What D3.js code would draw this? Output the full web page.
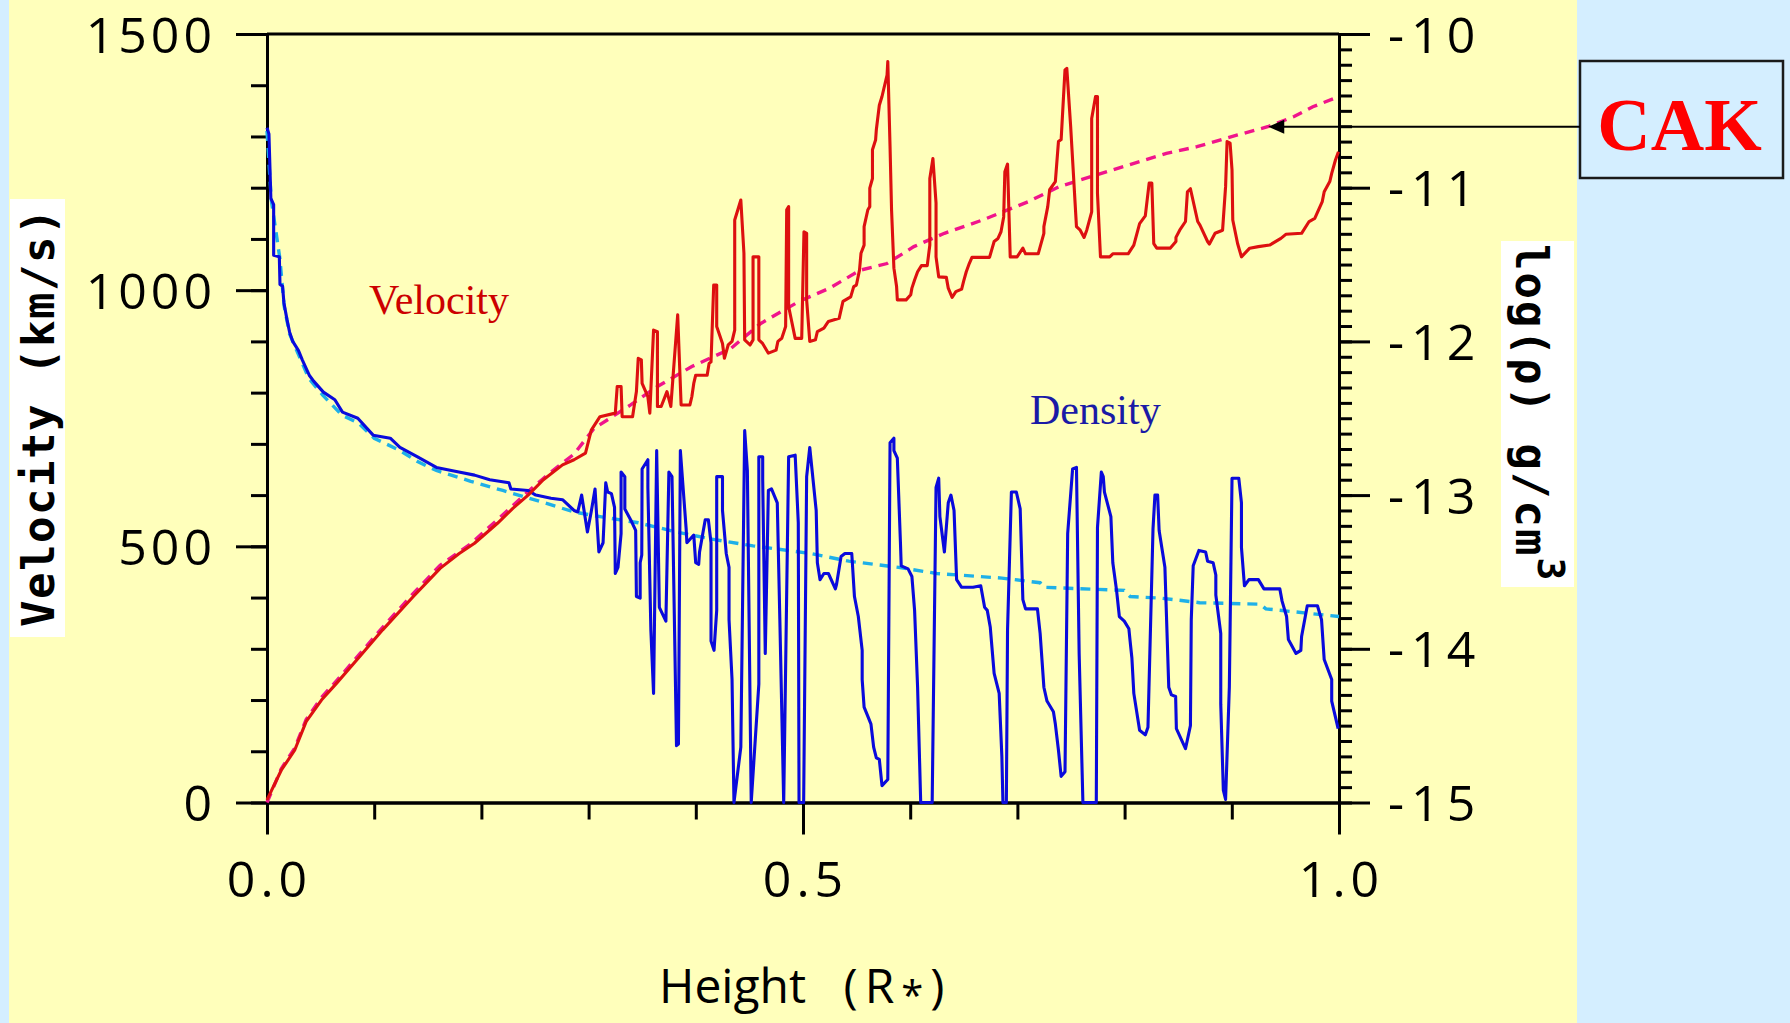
<!DOCTYPE html>
<html>
<head>
<meta charset="utf-8">
<script src="https://cdn.jsdelivr.net/npm/d3@7"></script>
<style>
  body { margin: 0; background: #d4eeff; }
  svg { display: block; }
</style>
</head>
<body>
<div id="chart"></div>
<script>
// ---- data (height in R*, velocity in km/s, density as log rho) ----
const velocity = [
  [0,5],[0.0133,63],[0.0258,102],[0.0365,158],[0.0508,200],[0.065,233],[0.0865,285],[0.1079,337],
  [0.1365,402],[0.1615,457],[0.1793,486],[0.1936,506],[0.215,545],[0.2293,574],[0.2436,600],[0.2578,630],
  [0.2757,659],[0.2864,669],[0.2971,682],[0.3025,727],[0.3106,753],[0.3249,760],
  [0.3267,812],[0.3303,812],[0.3313,753],[0.341,753],[0.3446,802],[0.3463,867],[0.3492,864],[0.3499,818],
  [0.3553,792],[0.3571,760],[0.3606,922],[0.3642,919],[0.3642,773],[0.3677,773],[0.3731,802],[0.3767,773],
  [0.3831,952],[0.3863,776],[0.3945,776],[0.3963,792],[0.3981,818],[0.3999,834],[0.4106,834],[0.4124,857],
  [0.4142,860],[0.4167,1010],[0.4195,1010],[0.4195,929],[0.4249,896],[0.4267,867],[0.4302,893],[0.4338,900],
  [0.4363,922],[0.4363,1137],[0.442,1176],[0.4449,1072],[0.4456,903],[0.4506,893],[0.4534,903],[0.4534,1065],
  [0.4588,1065],[0.4588,903],[0.4623,896],[0.4677,877],[0.4749,883],[0.4766,900],[0.4802,906],[0.4838,929],
  [0.4848,1157],[0.4866,1163],[0.4866,968],[0.4927,906],[0.4988,906],[0.5009,1114],[0.5034,1111],[0.5034,981],
  [0.5063,900],[0.5116,903],[0.5134,919],[0.5195,926],[0.5237,939],[0.5337,945],[0.5373,978],[0.5445,987],
  [0.5473,1007],[0.5498,1010],[0.5527,1039],[0.5541,1072],[0.557,1088],[0.557,1124],[0.5605,1157],[0.5623,1163],
  [0.5623,1199],[0.5648,1218],[0.5648,1274],[0.5677,1293],[0.5684,1313],[0.5712,1361],[0.5737,1378],[0.5784,1420],
  [0.5791,1446],[0.5812,1280],[0.5826,1157],[0.5848,1043],[0.5873,1007],[0.588,981],[0.5962,981],[0.6005,991],
  [0.6016,1004],[0.6041,1020],[0.6069,1036],[0.6105,1048],[0.6159,1048],[0.6183,1088],[0.6183,1218],[0.6212,1257],
  [0.6241,1170],[0.6241,1065],[0.6266,1026],[0.6337,1025],[0.6355,1004],[0.6391,986],[0.6426,997],[0.648,1002],
  [0.6498,1017],[0.6523,1036],[0.6551,1052],[0.6576,1064],[0.674,1064],[0.6765,1082],[0.6783,1095],[0.6819,1101],
  [0.6847,1114],[0.6872,1143],[0.6883,1231],[0.6908,1246],[0.6933,1065],[0.6997,1065],[0.7051,1082],[0.7076,1071],
  [0.7194,1071],[0.7247,1111],[0.7247,1124],[0.7283,1163],[0.7301,1196],[0.7354,1212],[0.7383,1290],[0.7408,1294],
  [0.7444,1430],[0.7461,1433],[0.7497,1319],[0.7551,1124],[0.7586,1117],[0.7622,1103],[0.7647,1117],[0.7693,1153],
  [0.7693,1335],[0.7729,1378],[0.7747,1378],[0.7747,1189],[0.7775,1065],[0.7861,1065],[0.789,1071],[0.8033,1071],
  [0.8086,1088],[0.814,1130],[0.8193,1145],[0.8229,1209],[0.8254,1209],[0.8272,1091],[0.83,1082],[0.8425,1082],
  [0.8479,1095],[0.8479,1103],[0.8514,1117],[0.8568,1134],[0.8586,1192],[0.8614,1198],[0.8682,1134],[0.8703,1127],
  [0.8774,1095],[0.8791,1090],[0.8844,1111],[0.8914,1117],[0.8942,1202],[0.8956,1290],[0.8984,1287],[0.9002,1235],
  [0.9009,1137],[0.9054,1091],[0.909,1065],[0.9167,1082],[0.9248,1085],[0.9353,1088],[0.9458,1101],[0.9504,1109],
  [0.9651,1111],[0.9721,1134],[0.9774,1140],[0.9844,1173],[0.9862,1192],[0.9914,1212],[0.9932,1228],[0.9967,1254],
  [0.9995,1270]
];

const velocityCAK = [
  [0,0],[0.0133,66],[0.0258,106],[0.0365,162],[0.0508,205],[0.065,238],[0.0865,290],[0.1079,342],[0.1365,408],
  [0.1615,463],[0.19,505],[0.215,552],[0.2436,607],[0.265,645],[0.2864,680],[0.305,730],[0.3392,776],[0.3642,812],
  [0.3963,851],[0.432,885],[0.4606,935],[0.4963,978],[0.5248,1004],[0.5534,1039],[0.5784,1052],[0.6034,1085],
  [0.6319,1111],[0.6676,1137],[0.7104,1173],[0.739,1202],[0.789,1235],[0.839,1267],[0.8675,1280],[0.9054,1303],
  [0.9335,1319],[0.9581,1339],[0.9756,1358],[1.0,1378]
];

const density = [
  [0,-10.61],[0.0018,-10.65],[0.0036,-11.07],[0.0062,-11.11],[0.0062,-11.44],[0.0115,-11.45],[0.0121,-11.63],
  [0.0145,-11.64],[0.0158,-11.75],[0.0187,-11.86],[0.0211,-11.94],[0.024,-12.0],[0.0294,-12.06],[0.0329,-12.12],
  [0.0394,-12.22],[0.0437,-12.26],[0.0526,-12.33],[0.0633,-12.38],[0.0704,-12.46],[0.0847,-12.5],[0.099,-12.61],
  [0.115,-12.63],[0.124,-12.69],[0.14,-12.75],[0.158,-12.82],[0.179,-12.85],[0.1936,-12.87],[0.2078,-12.9],
  [0.2257,-12.92],[0.2275,-12.96],[0.2436,-12.97],[0.2507,-13.0],[0.2649,-13.02],[0.2757,-13.03],[0.2864,-13.1],
  [0.2899,-13.11],[0.2935,-13.0],[0.2989,-13.24],[0.3024,-13.11],[0.306,-12.96],[0.3096,-13.37],[0.3135,-13.31],
  [0.316,-12.92],[0.3178,-12.98],[0.3213,-12.99],[0.3242,-13.08],[0.3249,-13.51],[0.3274,-13.47],[0.3303,-13.25],
  [0.3303,-12.85],[0.3338,-12.88],[0.3338,-13.09],[0.3392,-13.16],[0.3439,-13.23],[0.3446,-13.66],[0.3481,-13.67],
  [0.3481,-13.44],[0.3496,-13.39],[0.3499,-12.83],[0.3553,-12.77],[0.3553,-12.95],[0.3581,-13.88],[0.3606,-14.29],
  [0.3635,-12.71],[0.366,-13.73],[0.3721,-13.82],[0.3749,-12.85],[0.3778,-12.88],[0.382,-14.63],[0.3838,-14.62],
  [0.3856,-12.71],[0.391,-13.22],[0.3917,-13.31],[0.3981,-13.26],[0.3999,-13.44],[0.4027,-13.45],[0.4035,-13.37],
  [0.4088,-13.16],[0.4117,-13.16],[0.4142,-13.31],[0.4142,-13.95],[0.417,-14.01],[0.4195,-13.75],[0.4195,-12.88],
  [0.4249,-12.88],[0.4249,-13.1],[0.4284,-13.38],[0.431,-13.47],[0.431,-13.81],[0.4338,-14.2],[0.4356,-15.0],
  [0.442,-14.64],[0.4456,-12.58],[0.4481,-12.84],[0.4517,-15.0],[0.4588,-14.23],[0.4588,-12.75],[0.4624,-12.75],
  [0.4624,-12.9],[0.4648,-14.03],[0.4677,-12.97],[0.4706,-12.96],[0.476,-13.05],[0.4784,-13.81],[0.482,-15.0],
  [0.4866,-12.75],[0.4927,-12.74],[0.4956,-13.18],[0.4963,-15.0],[0.5006,-15.0],[0.5034,-12.88],[0.5063,-12.69],
  [0.5123,-13.1],[0.5134,-13.44],[0.5159,-13.55],[0.5195,-13.51],[0.5237,-13.51],[0.5302,-13.61],[0.5313,-13.58],
  [0.5355,-13.4],[0.5391,-13.38],[0.5455,-13.38],[0.548,-13.66],[0.5516,-13.79],[0.5552,-14.01],[0.5552,-14.2],
  [0.557,-14.38],[0.5605,-14.44],[0.5634,-14.49],[0.5659,-14.64],[0.5684,-14.71],[0.5712,-14.72],[0.5737,-14.89],
  [0.5791,-14.85],[0.5812,-12.66],[0.5848,-12.63],[0.5848,-12.71],[0.588,-12.76],[0.5909,-13.31],[0.5916,-13.46],
  [0.598,-13.48],[0.6016,-13.53],[0.6041,-13.75],[0.6069,-14.25],[0.6098,-15.0],[0.6205,-15.0],[0.6241,-12.95],
  [0.6266,-12.89],[0.6277,-13.14],[0.6319,-13.37],[0.6355,-13.05],[0.638,-13.0],[0.6409,-13.1],[0.6433,-13.55],
  [0.648,-13.6],[0.6587,-13.6],[0.6658,-13.59],[0.6694,-13.73],[0.6719,-13.75],[0.6747,-13.86],[0.6765,-14.01],
  [0.6783,-14.16],[0.683,-14.29],[0.6855,-14.7],[0.6865,-15.0],[0.6897,-15.0],[0.6908,-13.88],[0.6944,-12.98],
  [0.699,-12.98],[0.7026,-13.09],[0.7051,-13.68],[0.7076,-13.74],[0.7187,-13.74],[0.7212,-13.9],[0.7247,-14.25],
  [0.7276,-14.34],[0.7336,-14.41],[0.7354,-14.49],[0.7383,-14.66],[0.7408,-14.83],[0.7444,-14.8],[0.7469,-13.25],
  [0.7515,-12.83],[0.7551,-12.82],[0.7576,-14.03],[0.7611,-15.0],[0.7736,-15.0],[0.7747,-13.21],[0.7783,-12.85],
  [0.7801,-12.88],[0.7812,-12.98],[0.7872,-13.14],[0.789,-13.44],[0.7925,-13.62],[0.7951,-13.79],[0.7997,-13.82],
  [0.804,-13.87],[0.805,-13.94],[0.8068,-14.06],[0.8086,-14.29],[0.814,-14.53],[0.8193,-14.56],[0.8218,-14.51],
  [0.8265,-13.22],[0.8283,-13.0],[0.8308,-13.0],[0.8322,-13.23],[0.8376,-13.47],[0.8412,-14.25],[0.8437,-14.3],
  [0.8476,-14.31],[0.8483,-14.52],[0.8568,-14.65],[0.8614,-14.5],[0.8622,-13.81],[0.864,-13.46],[0.8693,-13.36],
  [0.8756,-13.37],[0.8774,-13.43],[0.8826,-13.44],[0.8851,-13.52],[0.8851,-13.65],[0.8897,-13.9],[0.8897,-14.36],
  [0.8921,-14.92],[0.8942,-14.98],[0.8977,-14.25],[0.9002,-12.89],[0.9065,-12.89],[0.909,-13.05],[0.909,-13.34],
  [0.9118,-13.59],[0.916,-13.55],[0.9248,-13.55],[0.93,-13.61],[0.9448,-13.61],[0.9469,-13.69],[0.9511,-13.79],
  [0.9528,-13.94],[0.9599,-14.03],[0.9644,-14.01],[0.9651,-13.92],[0.9704,-13.72],[0.9799,-13.72],[0.9837,-13.81],
  [0.9862,-14.07],[0.9932,-14.2],[0.9932,-14.34],[0.9992,-14.52]
];

const densityCAK = [
  [0,-10.63],[0.004,-11.08],[0.012,-11.46],[0.016,-11.77],[0.021,-11.95],[0.029,-12.08],[0.039,-12.24],
  [0.052,-12.35],[0.07,-12.48],[0.085,-12.53],[0.1,-12.63],[0.124,-12.71],[0.14,-12.78],[0.158,-12.84],
  [0.19,-12.91],[0.22,-12.97],[0.2543,-13.04],[0.2864,-13.11],[0.3106,-13.14],[0.3463,-13.18],[0.382,-13.24],
  [0.4177,-13.29],[0.4534,-13.33],[0.507,-13.38],[0.5427,-13.43],[0.5891,-13.47],[0.6248,-13.51],[0.6855,-13.54],
  [0.7212,-13.57],[0.7247,-13.6],[0.7997,-13.62],[0.8051,-13.66],[0.8336,-13.67],[0.87,-13.7],[0.9265,-13.71],
  [0.9318,-13.74],[1.0,-13.79]
];

// ticks
const xMajorTicks = [0, 0.5, 1.0];
const xMinorTicks = [0, 0.1, 0.2, 0.3, 0.4, 0.5, 0.6, 0.7, 0.8, 0.9, 1.0];
const velMajorTicks = [0, 500, 1000, 1500];
const velMinorTicks = [0, 100, 200, 300, 400, 500, 600, 700, 800, 900, 1000, 1100, 1200, 1300, 1400, 1500];
const rhoMajorTicks = [-15, -14, -13, -12, -11, -10];
const rhoMinorTicks = d3.range(-150, -99).map(d => d / 10);

// where the CAK arrow points (height, velocity)
const cakPoint = [0.934, 1319];

const W = 1790, H = 1023;
const margin = {top: 34, right: 451, bottom: 220.5, left: 267};

const svg = d3.select("#chart").append("svg")
    .attr("width", W)
    .attr("height", H);

// backgrounds
svg.append("rect").attr("width", W).attr("height", H).attr("fill", "#d4eeff");
svg.append("rect").attr("x", 9).attr("y", 0).attr("width", 1568).attr("height", H).attr("fill", "#ffffbb");

let x = d3.scaleLinear().domain([0, 1]).range([margin.left, W - margin.right]);
let yVel = d3.scaleLinear().domain([0, 1500]).range([H - margin.bottom, margin.top]);
let yRho = d3.scaleLinear().domain([-15, -10]).range([H - margin.bottom, margin.top]);

const axisFont = "'Open Sans', 'Liberation Sans', sans-serif";

function styleAxis(g) {
    g.selectAll("path.domain").attr("stroke", "black").attr("stroke-width", 3);
    g.selectAll(".tick line").attr("stroke", "black").attr("stroke-width", 3);
    g.selectAll("text")
        .attr("font-family", axisFont)
        .attr("font-size", 50)
        .attr("fill", "black");
}

// top frame line
svg.append("line")
    .attr("x1", x(0)).attr("x2", x(1))
    .attr("y1", yVel(1500)).attr("y2", yVel(1500))
    .attr("stroke", "black").attr("stroke-width", 3);

// bottom axis
svg.append("g")
    .attr("transform", `translate(0,${yVel(0)})`)
    .call(d3.axisBottom(x).tickValues(xMinorTicks).tickSize(17).tickSizeOuter(0).tickFormat(""))
    .call(styleAxis);
svg.append("g")
    .attr("transform", `translate(0,${yVel(0)})`)
    .call(d3.axisBottom(x).tickValues(xMajorTicks).tickSize(32).tickSizeOuter(0).tickPadding(27)
        .tickFormat(d3.format(".1f")))
    .call(styleAxis)
    .selectAll("text").attr("letter-spacing", 5).attr("dx", 2);

// left axis
svg.append("g")
    .attr("transform", `translate(${x(0)},0)`)
    .call(d3.axisLeft(yVel).tickValues(velMinorTicks).tickSize(16).tickSizeOuter(0).tickFormat(""))
    .call(styleAxis);
svg.append("g")
    .attr("transform", `translate(${x(0)},0)`)
    .call(d3.axisLeft(yVel).tickValues(velMajorTicks).tickSize(31).tickSizeOuter(0).tickPadding(20)
        .tickFormat(d => String(d)))
    .call(styleAxis)
    .selectAll("text").attr("letter-spacing", 4).attr("dy", "0.36em");

// right axis
svg.append("g")
    .attr("transform", `translate(${x(1)},0)`)
    .call(d3.axisRight(yRho).tickValues(rhoMinorTicks).tickSize(13).tickSizeOuter(0).tickFormat(""))
    .call(styleAxis);
svg.append("g")
    .attr("transform", `translate(${x(1)},0)`)
    .call(d3.axisRight(yRho).tickValues(rhoMajorTicks).tickSize(31).tickSizeOuter(0).tickPadding(18)
        .tickFormat(d => String(d)))
    .call(styleAxis)
    .selectAll("text").attr("letter-spacing", 7).attr("dy", "0.36em");

// lines
const lineVel = d3.line().x(d => x(d[0])).y(d => yVel(d[1]));
const lineRho = d3.line().x(d => x(d[0])).y(d => yRho(d[1]));

svg.append("path").datum(densityCAK)
    .attr("d", lineRho)
    .attr("fill", "none").attr("stroke", "#1eb0e8").attr("stroke-width", 3.4)
    .attr("stroke-dasharray", "10,7");
svg.append("path").datum(velocityCAK)
    .attr("d", lineVel)
    .attr("fill", "none").attr("stroke", "#f0148c").attr("stroke-width", 3.4)
    .attr("stroke-dasharray", "10,7");
svg.append("path").datum(density)
    .attr("d", lineRho)
    .attr("fill", "none").attr("stroke", "#0a0adc").attr("stroke-width", 3.1)
    .attr("stroke-linejoin", "round");
svg.append("path").datum(velocity)
    .attr("d", lineVel)
    .attr("fill", "none").attr("stroke", "#dd1010").attr("stroke-width", 3.1)
    .attr("stroke-linejoin", "round");

// in-plot labels
svg.append("text")
    .attr("x", 369).attr("y", 314)
    .attr("font-family", "'Liberation Serif', 'Times New Roman', serif")
    .attr("font-size", 42)
    .attr("fill", "#cc0000")
    .text("Velocity");
svg.append("text")
    .attr("x", 1030).attr("y", 424)
    .attr("font-family", "'Liberation Serif', 'Times New Roman', serif")
    .attr("font-size", 42)
    .attr("fill", "#1a1aa6")
    .text("Density");

// axis titles
svg.append("rect").attr("x", 10).attr("y", 199).attr("width", 55).attr("height", 438).attr("fill", "white");
svg.append("text")
    .attr("transform", "translate(54,417) rotate(-90)")
    .attr("text-anchor", "middle")
    .attr("font-family", "'DejaVu Sans Mono', monospace")
    .attr("font-weight", "bold")
    .attr("font-size", 44)
    .attr("letter-spacing", 1.5)
    .text("Velocity (km/s)");

svg.append("rect").attr("x", 1501).attr("y", 241).attr("width", 73).attr("height", 346).attr("fill", "white");
let rhoTitle = svg.append("text")
    .attr("transform", "translate(1516,244) rotate(90)")
    .attr("font-family", "'DejaVu Sans Mono', monospace")
    .attr("font-weight", "bold")
    .attr("font-size", 44)
    .attr("letter-spacing", 2);
rhoTitle.append("tspan").text("log(ρ) g/cm");
rhoTitle.append("tspan").attr("dy", -22).attr("font-size", 38).text("3");

let xTitle = svg.append("text")
    .attr("x", 659).attr("y", 1003)
    .attr("font-family", axisFont)
    .attr("font-size", 48)
    .style("white-space", "pre");
xTitle.append("tspan").text("Height   ");
xTitle.append("tspan").attr("letter-spacing", 7).text("(R");
xTitle.append("tspan").attr("dy", 7).attr("font-size", 40).attr("letter-spacing", 7).text("*");
xTitle.append("tspan").attr("dy", -7).text(")");

// CAK annotation
const boxX = 1580, boxY = 61, boxW = 203, boxH = 117;
svg.append("rect")
    .attr("x", boxX).attr("y", boxY).attr("width", boxW).attr("height", boxH)
    .attr("fill", "#d4eeff").attr("stroke", "#1a1a1a").attr("stroke-width", 2.5);
svg.append("text")
    .attr("x", boxX + boxW / 2 - 2).attr("y", boxY + 89)
    .attr("text-anchor", "middle")
    .attr("font-family", "'Liberation Serif', 'Times New Roman', serif")
    .attr("font-weight", "bold")
    .attr("font-size", 74)
    .attr("fill", "#ff0000")
    .text("CAK");

const tipX = x(cakPoint[0]), tipY = yVel(cakPoint[1]);
svg.append("line")
    .attr("x1", boxX).attr("y1", tipY)
    .attr("x2", tipX + 12).attr("y2", tipY)
    .attr("stroke", "black").attr("stroke-width", 2.2);
svg.append("path")
    .attr("d", `M${tipX},${tipY} L${tipX + 16},${tipY - 7} L${tipX + 16},${tipY + 7} Z`)
    .attr("fill", "black");
</script>
</body>
</html>
